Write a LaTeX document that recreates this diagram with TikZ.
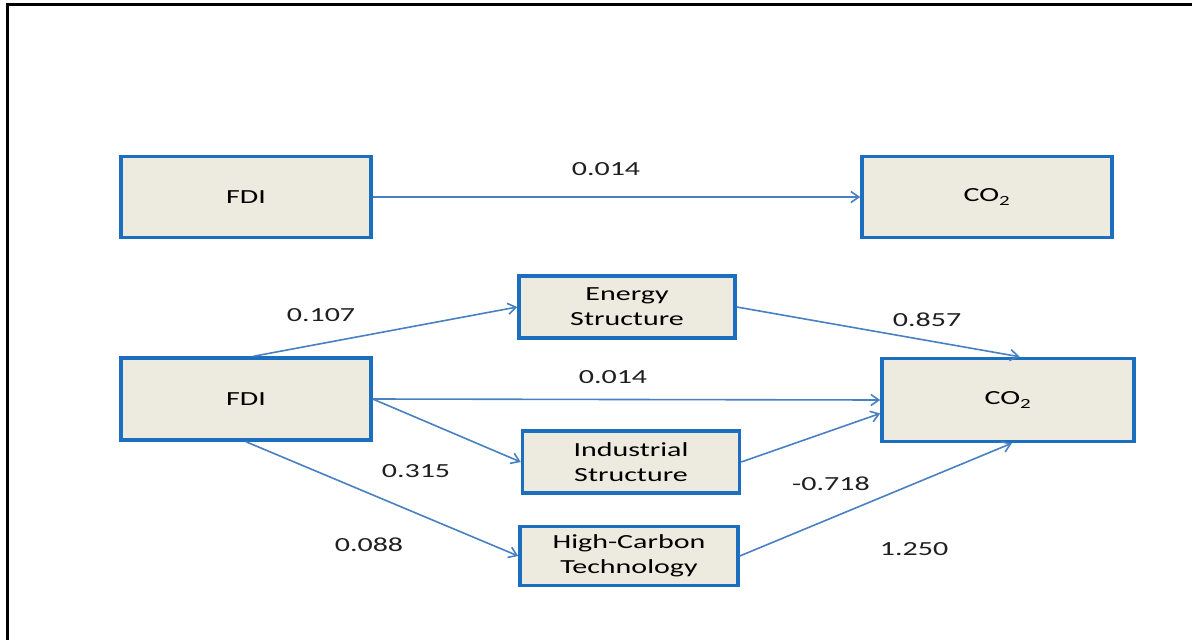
\documentclass[tikz,border=0pt]{standalone}
\usepackage{fontspec}
\setmainfont{Carlito}[FakeStretch=1.5]
\usetikzlibrary{arrows.meta}
\definecolor{boxblue}{RGB}{28,110,190}
\definecolor{arrowblue}{RGB}{72,128,194}
\definecolor{boxfill}{RGB}{237,235,224}
\tikzset{
  var/.style={draw=boxblue, line width=3.5pt, fill=boxfill, inner sep=0pt,
    align=center, font=\fontsize{20}{25}\selectfont},
  link/.style={draw=arrowblue, line width=1.6pt,
    -{Straight Barb[length=8pt,width=11pt]}},
  coef/.style={font=\fontsize{20}{25}\selectfont, text=black!88}
}
\begin{document}
\begin{tikzpicture}[x=1pt,y=-1pt]
  \useasboundingbox (0,0) rectangle (1192,640);
  %frame
  \draw[line width=3pt] (7.5,640) -- (7.5,4) -- (1192,4);
  %total effect
  \node[var, minimum width=250pt, minimum height=81pt] (fdiA) at (246,197) {FDI};
  \node[var, minimum width=250pt, minimum height=81pt] (coA) at (987,197) {CO\textsubscript{2}};
  \draw[link] (fdiA.east) -- (coA.west);
  \node[coef] (kA) at (606,169) {0.014};
  %mediators
  \node[var, minimum width=250pt, minimum height=82pt] (fdiB) at (246,399) {FDI};
  \node[var, minimum width=252pt, minimum height=83pt] (coB) at (1008,400) {CO\textsubscript{2}};
  \node[var, minimum width=216pt, minimum height=62pt] (energy) at (627,307) {Energy\\Structure};
  \node[var, minimum width=217pt, minimum height=62pt] (indus) at (631,462) {Industrial\\Structure};
  \node[var, minimum width=218pt, minimum height=59pt] (hct) at (629,556) {High-Carbon\\Technology};
  \draw[link] (fdiB.80) -- (energy.west);
  \draw[link] (fdiB.east) -- (coB.west);
  \draw[link] (fdiB.east) -- (indus.west);
  \draw[link] (fdiB.south) -- (hct.west);
  \draw[link] (energy.east) -- (coB.75);
  \draw[link] (indus.east) -- (coB.186);
  \draw[link] (hct.east) -- (coB.-85);
  %coefficients
  \node[coef] (kE) at (321,315) {0.107};
  \node[coef] (kB) at (613,377) {0.014};
  \node[coef] (kI) at (416,471) {0.315};
  \node[coef] (kH) at (369,545) {0.088};
  \node[coef] (kEC) at (927,320) {0.857};
  \node[coef] (kIC) at (831,484) {-0.718};
  \node[coef] (kHC) at (914,549) {1.250};
\end{tikzpicture}
\end{document}
